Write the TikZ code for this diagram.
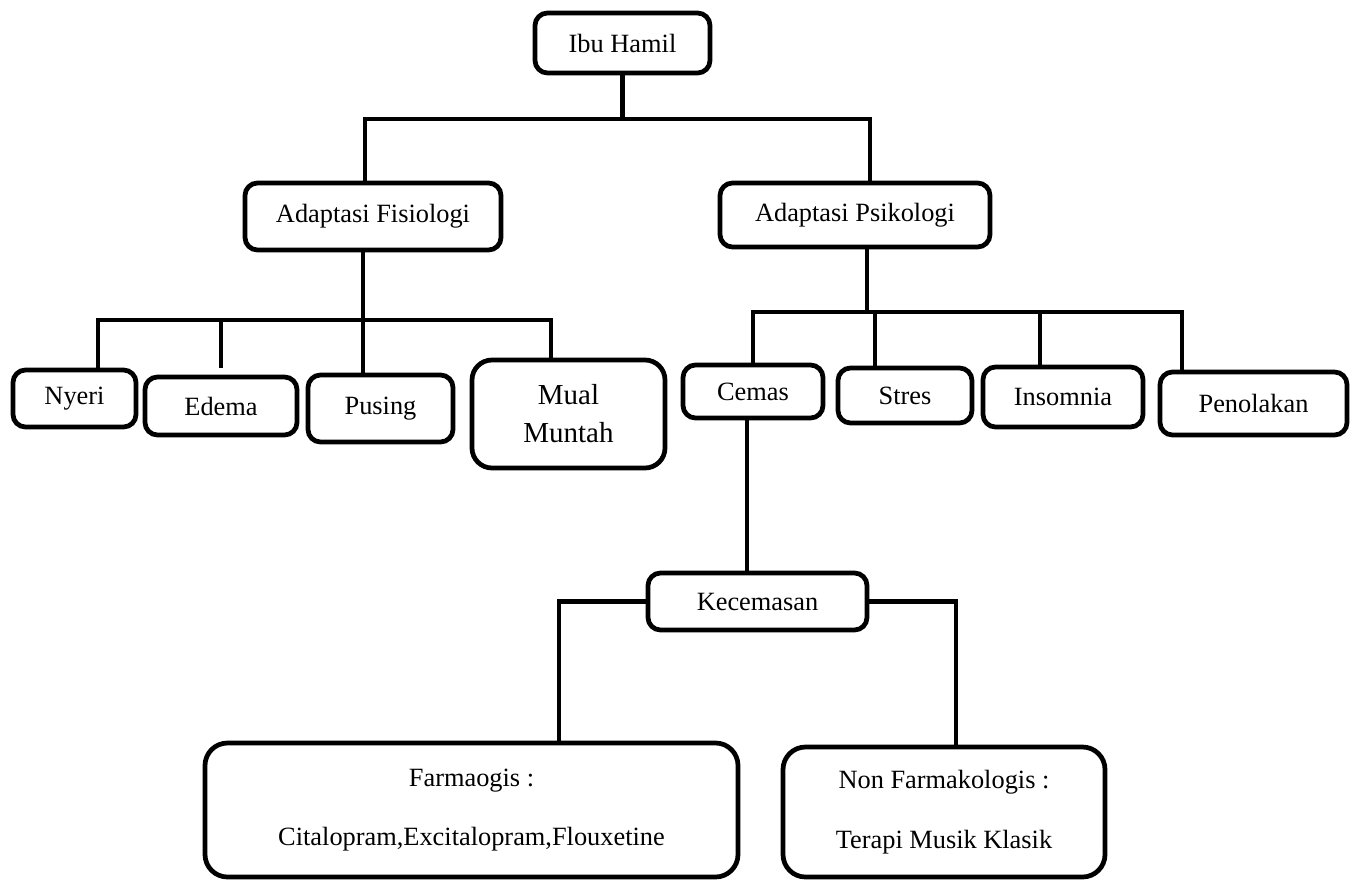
\documentclass[tikz,border=0pt]{standalone}
\usepackage{fontspec}
\setmainfont{Liberation Serif}
\usetikzlibrary{positioning}

\begin{document}
\begin{tikzpicture}[
    box/.style={rectangle, draw, rounded corners=0.25cm, line width=2.7pt, inner sep=0pt, align=center, font=\fontsize{15}{18}\selectfont},
    bigbox/.style={box, rounded corners=0.45cm},
    link/.style={line width=2.3pt}
]

\path[use as bounding box] (0,0) rectangle (27.06,-17.58);

\node[box, minimum width=3.5cm, minimum height=1.2cm] (ibu) at (12.45,-0.86) {Ibu Hamil};

\node[box, minimum width=5.12cm, minimum height=1.34cm] (fis) at (7.46,-4.33) {Adaptasi Fisiologi};
\node[box, minimum width=5.4cm, minimum height=1.28cm] (psi) at (17.1,-4.3) {Adaptasi Psikologi};

\node[box, minimum width=2.46cm, minimum height=1.14cm] (nyeri) at (1.49,-7.97) {Nyeri};
\node[box, minimum width=3.04cm, minimum height=1.16cm] (edema) at (4.42,-8.12) {Edema};
\node[box, minimum width=2.9cm, minimum height=1.34cm] (pusing) at (7.61,-8.17) {Pusing};
\node[box, rounded corners=0.4cm, minimum width=3.86cm, minimum height=2.16cm,
      font=\fontsize{16.5}{21.6}\selectfont] (mual) at (11.37,-8.28) {Mual\\Muntah};

\node[box, minimum width=2.8cm, minimum height=1.06cm] (cemas) at (15.06,-7.83) {Cemas};
\node[box, minimum width=2.68cm, minimum height=1.1cm] (stres) at (18.1,-7.91) {Stres};
\node[box, minimum width=3.2cm, minimum height=1.2cm] (insomnia) at (21.26,-7.94) {Insomnia};
\node[box, minimum width=3.74cm, minimum height=1.26cm] (penolakan) at (25.07,-8.07) {Penolakan};

\node[box, minimum width=4.38cm, minimum height=1.14cm] (kec) at (15.15,-12.03) {Kecemasan};

\node[bigbox, minimum width=10.66cm, minimum height=2.68cm] (farm) at (9.43,-16.2)
{Farmaogis :\\[16pt]Citalopram,Excitalopram,Flouxetine};
\node[bigbox, minimum width=6.44cm, minimum height=2.6cm] (nonf) at (18.88,-16.24)
{Non Farmakologis :\\[16pt]Terapi Musik Klasik};

\coordinate (busA) at (0,-2.38);
\coordinate (busB) at (0,-6.4);
\coordinate (busC) at (0,-6.24);

% ibu hamil
\draw[link] (ibu.south) -- (ibu.south |- busA);
\draw[link] ([xshift=-0.16cm]fis.north) |- ([xshift=0.3cm]psi.north |- busA) -- ([xshift=0.3cm]psi.north);

% fisiologi
\draw[link] ([xshift=-0.2cm]fis.south) -- ([xshift=-0.2cm]fis.south |- busB);
\draw[link] ([xshift=0.47cm]nyeri.north) |- ([xshift=-0.35cm]mual.north |- busB) -- ([xshift=-0.35cm]mual.north);
\draw[link] ([yshift=0.14cm]edema.north) -- (edema.north |- busB);
\draw[link] ([xshift=-0.35cm]pusing.north) -- ([xshift=-0.35cm]pusing.north |- busB);

% psikologi
\draw[link] ([xshift=0.24cm]psi.south) -- ([xshift=0.24cm]psi.south |- busC);
\draw[link] (cemas.north) |- ([xshift=-1.43cm]penolakan.north |- busC) -- ([xshift=-1.43cm]penolakan.north);
\draw[link] ([xshift=-0.6cm]stres.north) -- ([xshift=-0.6cm]stres.north |- busC);
\draw[link] ([xshift=-0.46cm]insomnia.north) -- ([xshift=-0.46cm]insomnia.north |- busC);

% cemas
\draw[link] ([xshift=-0.12cm]cemas.south) -- ([xshift=-0.12cm]cemas.south |- kec.north);
\draw[link] (kec.west) -| ([xshift=1.75cm]farm.north);
\draw[link] (kec.east) -| ([xshift=0.24cm]nonf.north);

\end{tikzpicture}
\end{document}
